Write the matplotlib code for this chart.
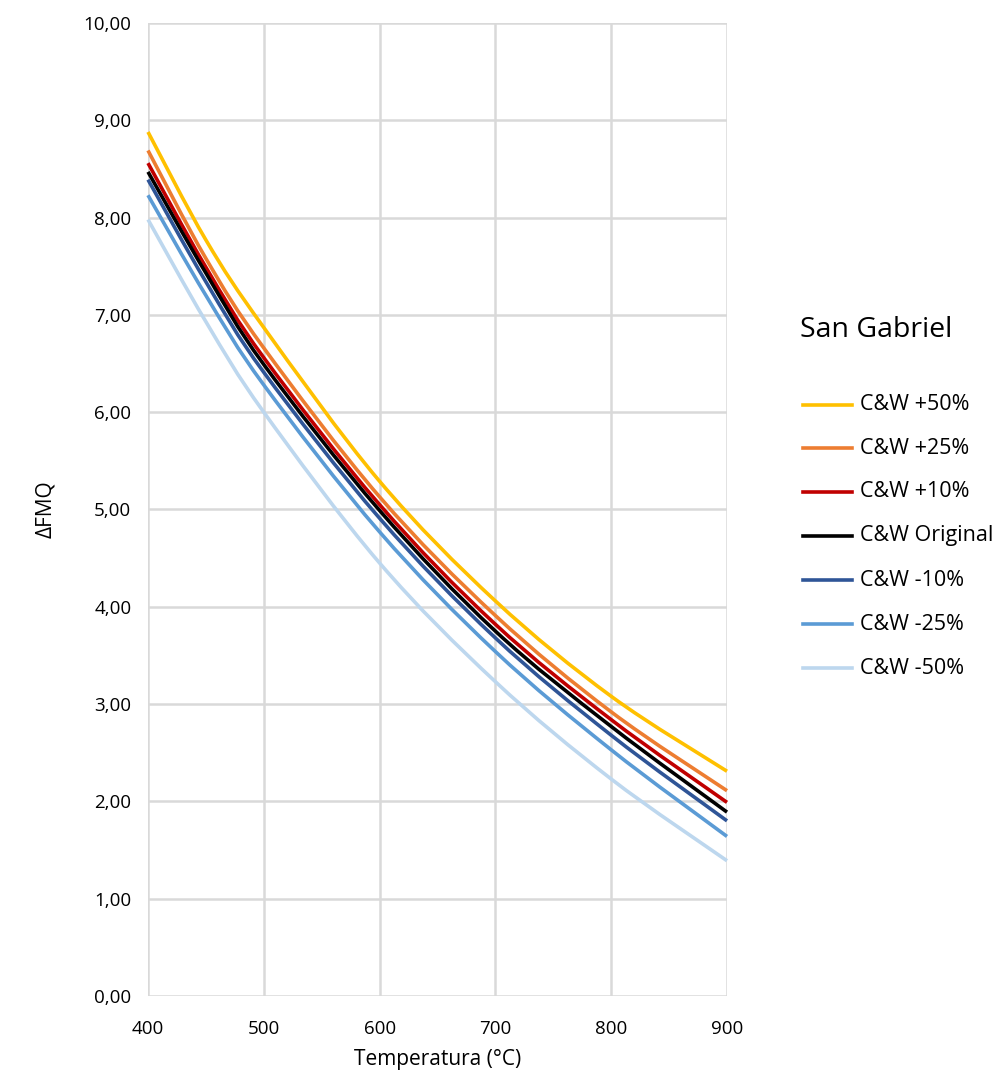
import matplotlib
matplotlib.use("Agg")
import matplotlib.pyplot as plt
from matplotlib.path import Path
from matplotlib.patches import PathPatch
from matplotlib.lines import Line2D
from matplotlib.ticker import FuncFormatter
import numpy as np

plt.rcParams['font.family'] = ['Open Sans', 'DejaVu Sans']

# Temperature (°C) and ΔFMQ for each C&W scaling
temperature = [400, 450, 500, 600, 700, 800, 900]
cw_plus50 = [8.88, 7.77, 6.87, 5.29, 4.06, 3.08, 2.31]
cw_plus25 = [8.69, 7.58, 6.66, 5.13, 3.91, 2.92, 2.11]
cw_plus10 = [8.56, 7.49, 6.56, 5.05, 3.82, 2.84, 1.99]
cw_original = [8.47, 7.43, 6.49, 4.99, 3.75, 2.77, 1.89]
cw_minus10 = [8.39, 7.34, 6.41, 4.91, 3.68, 2.68, 1.80]
cw_minus25 = [8.23, 7.20, 6.28, 4.77, 3.54, 2.53, 1.64]
cw_minus50 = [7.98, 6.93, 6.00, 4.45, 3.23, 2.23, 1.39]

series_labels = ["C&W +50%", "C&W +25%", "C&W +10%", "C&W Original",
                 "C&W -10%", "C&W -25%", "C&W -50%"]
series_values = [cw_plus50, cw_plus25, cw_plus10, cw_original,
                 cw_minus10, cw_minus25, cw_minus50]
series_colors = ["#FFC000", "#ED7D31", "#C00000", "#000000",
                 "#2F5597", "#5B9BD5", "#BDD7EE"]

x_ticks = [400, 500, 600, 700, 800, 900]
y_ticks = [0, 1, 2, 3, 4, 5, 6, 7, 8, 9, 10]


def smooth_path(xs, ys, tension=1.0 / 6.0):
    """Cubic Bezier path through the points (spreadsheet-style smoothed line)."""
    pts = np.column_stack([xs, ys]).astype(float)
    n = len(pts)
    verts = [pts[0]]
    codes = [Path.MOVETO]
    for i in range(n - 1):
        p0 = pts[i - 1] if i > 0 else pts[i]
        p1 = pts[i]
        p2 = pts[i + 1]
        p3 = pts[i + 2] if i + 2 < n else pts[i + 1]
        c1 = p1 + (p2 - p0) * tension
        c2 = p2 - (p3 - p1) * tension
        verts += [c1, c2, p2]
        codes += [Path.CURVE4, Path.CURVE4, Path.CURVE4]
    return Path(verts, codes)


fig = plt.figure(figsize=(9.99, 10.72), dpi=100)
ax = fig.add_axes([148 / 999, 1 - 996 / 1072, 579 / 999, 973 / 1072])

ax.set_xlim(400, 900)
ax.set_ylim(0, 10)
ax.set_xticks(x_ticks)
ax.set_yticks(y_ticks)
ax.yaxis.set_major_formatter(FuncFormatter(lambda v, p: f"{v:.2f}".replace(".", ",")))
ax.grid(True, color="#D9D9D9", linewidth=1.8)
ax.set_axisbelow(True)
for s in ax.spines.values():
    s.set_visible(False)
ax.tick_params(length=0, labelsize=13.5, colors="#000000")
ax.tick_params(axis="y", pad=12)
ax.tick_params(axis="x", pad=17)

for vals, col in zip(series_values, series_colors):
    patch = PathPatch(smooth_path(temperature, vals), facecolor="none",
                      edgecolor=col, linewidth=2.6, capstyle="butt",
                      joinstyle="round", clip_on=False, zorder=3)
    ax.add_patch(patch)

ax.set_xlabel("Temperatura (°C)", fontsize=15, labelpad=8)
ax.set_ylabel("ΔFMQ", fontsize=15, labelpad=20)

# Legend
fig.text(800 / 999, 1 - 330 / 1072, "San Gabriel", fontsize=20.5,
         ha="left", va="center")
row_y = [405, 448, 492, 536, 580, 624, 668]
for yy, lab, col in zip(row_y, series_labels, series_colors):
    yf = 1 - yy / 1072
    fig.add_artist(Line2D([803 / 999, 852 / 999], [yf, yf], color=col,
                          linewidth=2.6, transform=fig.transFigure))
    fig.text(860 / 999, yf, lab, fontsize=15.5, ha="left", va="center")

fig.savefig("out.png", dpi=100)
